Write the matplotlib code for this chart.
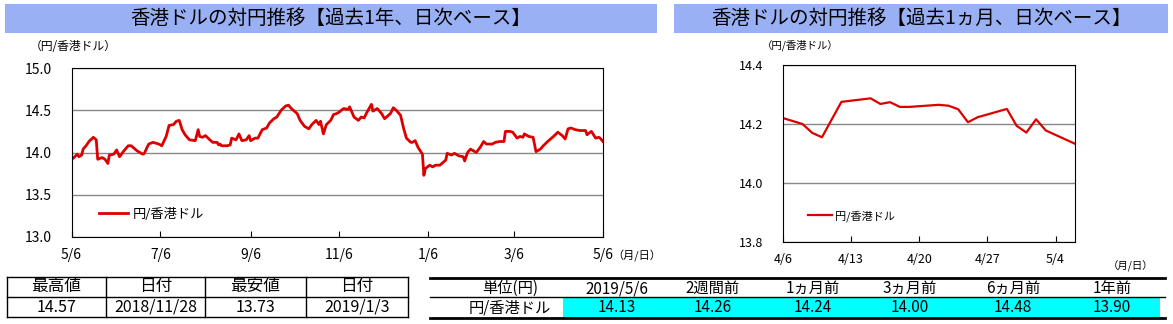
import numpy as np
import pandas as pd
import matplotlib
matplotlib.use("Agg")
import matplotlib.pyplot as plt
from matplotlib.patches import Rectangle
from matplotlib.lines import Line2D

plt.rcParams['font.family'] = ['Noto Sans CJK JP', 'DejaVu Sans']

# 1-year daily series (days since 2018-05-06, JPY per HKD)
year_start = "2018-05-06"
year_days = [0, 1, 4, 5, 7, 8, 10, 12, 15, 17, 18, 21, 23, 25, 26, 29, 31, 33, 36, 39,
             41, 45, 49, 50, 53, 56, 60, 62, 65, 67, 70, 72, 74, 76, 78, 81, 85, 87, 88, 90,
             92, 95, 97, 100, 101, 102, 103, 107, 109, 110, 113, 115, 117, 120, 122, 123, 126, 128, 131, 134,
             136, 139, 141, 144, 147, 149, 151, 155, 157, 160, 163, 165, 168, 170, 171, 173, 175, 178, 180, 182,
             184, 186, 187, 190, 191, 194, 197, 199, 201, 203, 206, 207, 210, 211, 213, 215, 217, 219, 221, 223,
             226, 228, 230, 233, 234, 236, 238, 241, 242, 243, 246, 248, 250, 253, 257, 258, 261, 263, 266, 269,
             270, 272, 274, 278, 281, 283, 285, 289, 291, 294, 297, 298, 301, 303, 306, 308, 310, 311, 314, 317,
             319, 322, 324, 327, 331, 334, 337, 339, 341, 343, 346, 349, 353, 354, 357, 360, 362, 363, 365]
year_vals = [13.92, 13.93, 13.98, 13.95, 13.97, 14.04, 14.08, 14.13, 14.18, 14.15, 13.92, 13.94, 13.92, 13.87, 13.97, 13.98, 14.03, 13.95, 14.02, 14.08,
             14.08, 14.02, 13.98, 13.99, 14.10, 14.12, 14.10, 14.08, 14.19, 14.32, 14.33, 14.37, 14.38, 14.27, 14.21, 14.15, 14.14, 14.27, 14.19, 14.18,
             14.20, 14.15, 14.12, 14.12, 14.09, 14.10, 14.08, 14.08, 14.09, 14.17, 14.15, 14.22, 14.14, 14.15, 14.20, 14.14, 14.17, 14.17, 14.27, 14.29,
             14.35, 14.40, 14.42, 14.50, 14.55, 14.56, 14.52, 14.46, 14.38, 14.31, 14.28, 14.33, 14.38, 14.33, 14.37, 14.22, 14.33, 14.38, 14.45, 14.46,
             14.48, 14.51, 14.52, 14.51, 14.54, 14.42, 14.38, 14.42, 14.41, 14.48, 14.57, 14.49, 14.52, 14.50, 14.46, 14.40, 14.43, 14.46, 14.53, 14.50,
             14.44, 14.29, 14.17, 14.12, 14.12, 14.14, 14.06, 13.98, 13.73, 13.81, 13.85, 13.83, 13.85, 13.85, 13.91, 13.99, 13.97, 13.99, 13.96, 13.95,
             13.90, 14.00, 14.04, 14.00, 14.07, 14.13, 14.10, 14.10, 14.12, 14.13, 14.13, 14.25, 14.25, 14.24, 14.17, 14.19, 14.18, 14.22, 14.19, 14.18,
             14.01, 14.04, 14.08, 14.13, 14.19, 14.24, 14.20, 14.16, 14.28, 14.29, 14.27, 14.26, 14.26, 14.21, 14.25, 14.17, 14.18, 14.17, 14.13]
year_ticks = ["2018-05-06", "2018-07-06", "2018-09-06", "2018-11-06", "2019-01-06", "2019-03-06", "2019-05-06"]
year_ticklabels = ["5/6", "7/6", "9/6", "11/6", "1/6", "3/6", "5/6"]

# 1-month daily series
month_dates = ["2019-04-06", "2019-04-08", "2019-04-09", "2019-04-10", "2019-04-11", "2019-04-12",
               "2019-04-15", "2019-04-16", "2019-04-17", "2019-04-18", "2019-04-19", "2019-04-22",
               "2019-04-23", "2019-04-24", "2019-04-25", "2019-04-26", "2019-04-29", "2019-04-30",
               "2019-05-01", "2019-05-02", "2019-05-03", "2019-05-06"]
month_vals = [14.22, 14.20, 14.17, 14.155, 14.215, 14.275, 14.287, 14.268, 14.274, 14.258, 14.258, 14.265,
              14.262, 14.25, 14.206, 14.223, 14.251, 14.194, 14.171, 14.216, 14.178, 14.133]
month_ticks = ["2019-04-06", "2019-04-13", "2019-04-20", "2019-04-27", "2019-05-04"]
month_ticklabels = ["4/6", "4/13", "4/20", "4/27", "5/4"]

# tables
hl_header = ["最高値", "日付", "最安値", "日付"]
hl_values = ["14.57", "2018/11/28", "13.73", "2019/1/3"]
cmp_header = ["単位(円)", "2019/5/6", "2週間前", "1ヵ月前", "3ヵ月前", "6ヵ月前", "1年前"]
cmp_values = ["円/香港ドル", "14.13", "14.26", "14.24", "14.00", "14.48", "13.90"]

W, H = 1173, 324
RED = "#DD0000"
BAND = "#9AB0F5"


def fx(x):
    return x / W


def fy(y):
    return 1 - y / H


fig = plt.figure(figsize=(W / 100, H / 100), dpi=100)

# title bands
for x0, x1, title in [(5, 657, "香港ドルの対円推移【過去1年、日次ベース】"),
                      (674, 1168, "香港ドルの対円推移【過去1ヵ月、日次ベース】")]:
    fig.add_artist(Rectangle((fx(x0), fy(33)), fx(x1) - fx(x0), fy(4) - fy(33),
                             transform=fig.transFigure, color=BAND, lw=0, zorder=0))
    fig.text(fx((x0 + x1) / 2), fy(18.5), title, ha="center", va="center", fontsize=14)

# left chart
ax = fig.add_axes([fx(71.5), fy(237), fx(603) - fx(71.5), fy(68) - fy(237)])
xd = pd.Timestamp(year_start) + pd.to_timedelta(year_days, unit="D")
ax.plot(xd, year_vals, color=RED, lw=2, label="円/香港ドル")
ax.set_xlim(pd.Timestamp(year_ticks[0]), pd.Timestamp(year_ticks[-1]))
ax.set_ylim(13.0, 15.0)
ax.set_yticks(np.arange(13.0, 15.01, 0.5))
ax.set_yticklabels([f"{v:.1f}" for v in np.arange(13.0, 15.01, 0.5)], fontsize=10)
ax.set_xticks(pd.to_datetime(year_ticks))
ax.set_xticklabels(year_ticklabels, fontsize=10)
ax.tick_params(axis="x", direction="in", length=4, pad=8)
ax.tick_params(axis="y", length=0, pad=14)
ax.yaxis.grid(True, color="#888888", lw=1)
ax.legend(loc="center left", bbox_to_anchor=(0.03, 0.135), frameon=False,
          fontsize=9.5, handlelength=2.2, handletextpad=0.3)
fig.text(fx(30), fy(47), "（円/香港ドル）", ha="left", va="center", fontsize=8.5)
fig.text(fx(612), fy(256), "（月/日）", ha="left", va="center", fontsize=8)

# right chart
ax2 = fig.add_axes([fx(783), fy(242), fx(1075) - fx(783), fy(65) - fy(242)])
ax2.plot(pd.to_datetime(month_dates), month_vals, color=RED, lw=1.6, label="円/香港ドル")
ax2.set_xlim(pd.Timestamp("2019-04-06"), pd.Timestamp("2019-05-06"))
ax2.set_ylim(13.8, 14.4)
ax2.set_yticks(np.arange(13.8, 14.41, 0.2))
ax2.set_yticklabels([f"{v:.1f}" for v in np.arange(13.8, 14.41, 0.2)], fontsize=9)
ax2.set_xticks(pd.to_datetime(month_ticks))
ax2.set_xticklabels(month_ticklabels, fontsize=9)
ax2.tick_params(axis="x", direction="in", length=4, pad=8)
ax2.tick_params(axis="y", length=0, pad=14)
ax2.yaxis.grid(True, color="#888888", lw=1)
ax2.legend(loc="center left", bbox_to_anchor=(0.05, 0.147), frameon=False,
           fontsize=8, handlelength=2.2, handletextpad=0.3)
fig.text(fx(762), fy(45), "（円/香港ドル）", ha="left", va="center", fontsize=7.5)
fig.text(fx(1108), fy(266), "（月/日）", ha="left", va="center", fontsize=7.5)

# left table
cols = [7, 106, 205, 306, 408]
rows = [277, 297, 317]
for y in rows:
    fig.add_artist(Line2D([fx(cols[0]), fx(cols[-1])], [fy(y), fy(y)], color="black", lw=1))
for x in cols:
    fig.add_artist(Line2D([fx(x), fx(x)], [fy(rows[0]), fy(rows[-1])], color="black", lw=1))
for i in range(4):
    cx = (cols[i] + cols[i + 1]) / 2
    fig.text(fx(cx), fy(287), hl_header[i], ha="center", va="center", fontsize=12)
    fig.text(fx(cx), fy(307.5), hl_values[i], ha="center", va="center", fontsize=11.5)

# right table
centers = [510, 617, 713, 813, 910, 1013, 1112]
fig.add_artist(Rectangle((fx(563), fy(317)), fx(1160) - fx(563), fy(297) - fy(317),
                         transform=fig.transFigure, color="#00FFFF", lw=0, zorder=0))
for y, lw in [(278, 2), (297, 1), (318, 2)]:
    fig.add_artist(Line2D([fx(430), fx(1165)], [fy(y), fy(y)], color="black", lw=lw))
for i, cx in enumerate(centers):
    fig.text(fx(cx), fy(288.5), cmp_header[i], ha="center", va="center", fontsize=11)
    fig.text(fx(cx), fy(308), cmp_values[i], ha="center", va="center", fontsize=11)

fig.savefig("out.png", dpi=100)
